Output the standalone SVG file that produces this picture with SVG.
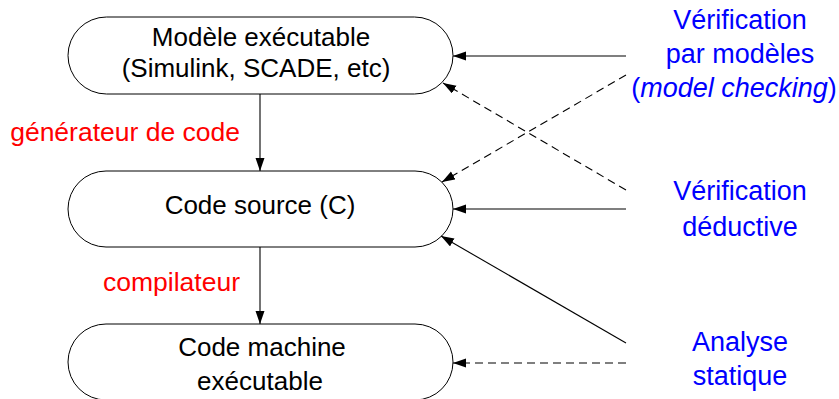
<svg xmlns="http://www.w3.org/2000/svg" width="839" height="399" viewBox="0 0 839 399">
  <style>
    .node { fill: #ffffff; stroke: #000000; stroke-width: 1; }
    .t { font-family: "Liberation Sans", Arial, sans-serif; font-size: 26px; fill: #000000; text-anchor: middle; }
    .red { font-family: "Liberation Sans", Arial, sans-serif; font-size: 26.5px; fill: #ff0000; text-anchor: end; }
    .blue { font-family: "Liberation Sans", Arial, sans-serif; font-size: 27px; fill: #0000ff; text-anchor: middle; }
    .edge { fill: none; stroke: #000000; stroke-width: 1.1; marker-end: url(#arrow); }
    .dash { stroke-dasharray: 8 5; }
  </style>
  <defs>
    <marker id="arrow" markerUnits="userSpaceOnUse" markerWidth="14" markerHeight="10" refX="13" refY="4.5" orient="auto">
      <path d="M0,0 L13,4.5 L0,9 z" fill="#000000"/>
    </marker>
  </defs>
  <rect width="839" height="399" fill="#ffffff"/>

  <g id="node-modele">
    <rect class="node" x="68" y="17" width="385" height="77" rx="38.5" ry="38.5"/>
    <text class="t" x="261" y="46">Modèle exécutable</text>
    <text class="t" x="256" y="77">(Simulink, SCADE, etc)</text>
  </g>
  <g id="node-source">
    <rect class="node" x="68" y="171" width="385" height="76" rx="38" ry="38"/>
    <text class="t" x="260" y="214">Code source (C)</text>
  </g>
  <g id="node-machine">
    <rect class="node" x="68" y="324" width="385" height="76" rx="38" ry="38"/>
    <text class="t" x="262" y="356">Code machine</text>
    <text class="t" x="260" y="390">exécutable</text>
  </g>

  <g id="label-generateur">
    <text class="red" x="240" y="141">générateur de code</text>
  </g>
  <g id="label-compilateur">
    <text class="red" x="240" y="291">compilateur</text>
  </g>

  <g id="tool-model-checking">
    <text class="blue" x="740" y="29">Vérification</text>
    <text class="blue" x="740" y="63">par modèles</text>
    <text class="blue" x="734" y="97" font-size="25">(<tspan font-style="italic">model checking</tspan>)</text>
  </g>
  <g id="tool-deductive">
    <text class="blue" x="740" y="200">Vérification</text>
    <text class="blue" x="740" y="236">déductive</text>
  </g>
  <g id="tool-statique">
    <text class="blue" x="740" y="351">Analyse</text>
    <text class="blue" x="740" y="385">statique</text>
  </g>

  <g id="connectors">
    <line class="edge" x1="260" y1="94" x2="260" y2="171"/>
    <line class="edge" x1="260" y1="247" x2="260" y2="324"/>
    <line class="edge" x1="626" y1="56" x2="453" y2="56"/>
    <line class="edge dash" x1="626" y1="75" x2="442" y2="182"/>
    <line class="edge dash" x1="626" y1="190" x2="443" y2="83"/>
    <line class="edge" x1="626" y1="209" x2="453" y2="209"/>
    <line class="edge" x1="626" y1="343" x2="441" y2="236"/>
    <line class="edge dash" x1="626" y1="363" x2="453" y2="363"/>
  </g>
</svg>
